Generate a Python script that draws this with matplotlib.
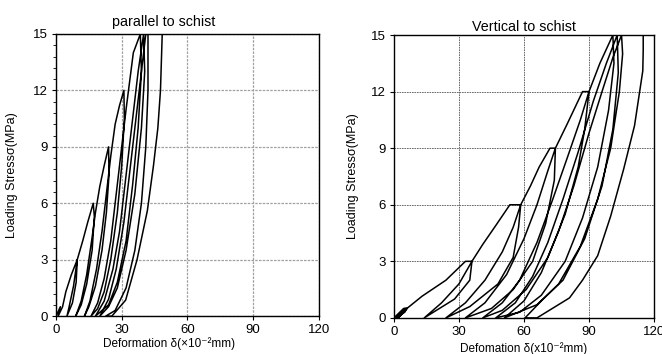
import numpy as np
import matplotlib
matplotlib.use('Agg')
import matplotlib.pyplot as plt
from matplotlib.ticker import MultipleLocator

plt.rcParams['font.family'] = ['Liberation Sans', 'DejaVu Sans']

# parallel to schist: one continuous loading / unloading path
par_x = [0, 2, 1, 3,
         4.5, 7, 9.7,                       # load to 3
         9.2, 7.5, 5,                       # unload
         6, 8, 9.7, 12.2, 14.5, 17,         # reload, load to 6
         17.5, 16.5, 14, 11.5, 9,
         11.5, 14, 16.5, 18, 20, 22, 24,    # load to 9
         24.2, 23, 21, 18, 15, 13,
         15.5, 18.5, 21, 23.5, 25, 27, 29, 31,   # load to 12
         31.2, 30, 28, 25, 22, 19, 16,
         19, 22, 25, 28, 30.5, 32, 35.3, 38.5,   # load to 15
         39, 37.5, 35, 32, 28, 24, 18,
         22, 26, 29, 32, 35, 37.5, 40,
         40.5, 39, 36, 32, 28, 24, 20,
         24, 27.5, 31, 34, 37, 39.5, 41, 42,
         42, 42, 41, 39, 36, 32, 27, 22.7,
         25.5, 31.8, 37, 41.7, 44.5, 46.5, 47.7, 48.5]
par_y = [0, 0.5, 0, 0.5,
         1.3, 2.2, 3,
         1.8, 0.7, 0,
         0.5, 1.6, 3, 4, 5, 6,
         5.3, 3.5, 1.7, 0.6, 0,
         0.8, 2.2, 4.2, 5.5, 6.9, 8, 9,
         7.5, 5.5, 3.5, 1.6, 0.5, 0,
         0.8, 2.5, 4.5, 7, 8.5, 10.2, 11.2, 12,
         10.5, 8, 5.5, 3, 1.3, 0.4, 0,
         0.7, 2, 4, 7, 9.5, 11, 14, 15,
         13, 10, 7, 4, 1.8, 0.6, 0,
         0.8, 2.5, 4.5, 7.5, 10.5, 13, 15,
         13, 10, 6.5, 3.5, 1.5, 0.5, 0,
         0.9, 2.5, 5, 8, 11, 13.5, 15, 15,
         14, 12, 9, 6, 3.5, 1.5, 0.3, 0,
         0, 0.85, 3, 5.6, 8, 10, 12, 15]

# vertical to schist
ver_x = [0, 4.5, 6, 5, 1, 5, 6, 2, 6,
         13, 24, 33, 36,                    # load to 3
         35, 28, 14,
         22, 30, 36, 41, 47, 53.5, 58.5,    # load to 6
         57.5, 55, 48, 35, 24,
         33, 42, 50, 55, 58.5, 63, 67, 72, 74.5,   # load to 9
         74, 70, 64, 55, 45, 33,
         42, 52, 60, 66, 71, 74.5, 80, 87, 90,     # load to 12
         89, 88, 85, 79, 71, 61, 50, 41,
         50, 58, 66, 73, 80, 86, 90, 95, 101,      # load to 15
         101.5, 99, 94, 87, 79, 68, 58, 47,
         56, 64, 71, 78, 85, 92, 98, 103,
         103.5, 101, 96, 88, 78, 66, 51,
         60, 68, 76, 83, 90, 96, 101, 105,
         105.5, 104, 100, 94, 86, 76, 68, 60.5,
         66, 81, 87, 94, 100, 106, 111, 114.8, 115, 115]
ver_y = [0, 0.5, 0.5, 0.3, 0, 0.5, 0.5, 0, 0.5,
         1.15, 2.0, 3.0, 3.0,
         2.0, 1.0, 0,
         0.8, 1.8, 3.0, 3.9, 4.9, 6, 6,
         4.8, 3.2, 1.8, 0.6, 0,
         0.8, 2, 3.5, 4.8, 6, 7, 8, 9, 9,
         7.3, 5, 3, 1.5, 0.5, 0,
         0.8, 2.3, 4.2, 6, 7.8, 9, 10.3, 12, 12,
         11, 10, 8, 5.5, 3.2, 1.5, 0.4, 0,
         0.8, 2, 4, 6.2, 8.5, 10.5, 12, 13.5, 15,
         13.5, 11, 8, 5.3, 3, 1.2, 0.3, 0,
         0.8, 2.2, 4, 6.3, 8.8, 11.5, 13.5, 15,
         13, 10, 7, 4.2, 2, 0.7, 0,
         0.9, 2.4, 4.6, 7, 9.8, 12, 13.8, 15,
         14, 12, 9, 6.3, 3.8, 1.8, 0.9, 0,
         0, 1.06, 2.0, 3.3, 5.4, 7.9, 10.2, 13.1, 14.2, 15]

x_ticks = [0, 30, 60, 90, 120]
y_ticks = [0, 3, 6, 9, 12, 15]

fig = plt.figure(figsize=(6.62, 3.54), dpi=100)
ax1 = fig.add_axes([0.0846, 0.107, 0.397, 0.797])
ax2 = fig.add_axes([0.595, 0.102, 0.393, 0.799])

ax1.plot(par_x, par_y, color='k', lw=1.1)
ax2.plot(ver_x, ver_y, color='k', lw=1.1)

for ax in (ax1, ax2):
    ax.set_xlim(0, 120)
    ax.set_ylim(0, 15)
    ax.set_xticks(x_ticks)
    ax.set_yticks(y_ticks)
    ax.tick_params(labelsize=9.5, length=3, width=0.8, pad=3)
    for s in ax.spines.values():
        s.set_linewidth(1.0)
    ax.set_ylabel('Loading Stressσ(MPa)', fontsize=9)

ax1.grid(True, color='#a0a0a0', lw=0.9, linestyle=(0, (2, 1)))
ax2.grid(True, color='#555555', lw=0.6, linestyle=(0, (2, 1)))
ax1.yaxis.set_minor_locator(MultipleLocator(0.6))
ax1.tick_params(axis='y', which='minor', length=2.5, width=0.6)

ax1.set_title('parallel to schist', fontsize=10.3, x=0.41, pad=6)
ax2.set_title('Vertical to schist', fontsize=10.3, pad=3)
ax1.set_xlabel('Deformation δ(×10⁻²mm)', fontsize=8.5)
ax1.xaxis.set_label_coords(0.43, -0.075)
ax2.set_xlabel('Defomation δ(x10⁻²mm)', fontsize=8.5)
ax2.xaxis.set_label_coords(0.5, -0.085)
ax1.yaxis.set_label_coords(-0.145, 0.5)
ax2.yaxis.set_label_coords(-0.135, 0.5)

fig.savefig('out.png', dpi=100)
